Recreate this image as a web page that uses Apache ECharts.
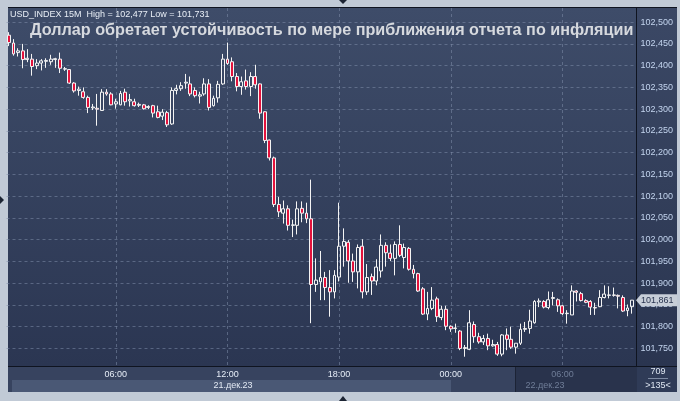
<!DOCTYPE html>
<html><head><meta charset="utf-8">
<script src="https://cdn.jsdelivr.net/npm/echarts@6/dist/echarts.min.js"></script>
<style>
html,body{margin:0;padding:0;background:#c1cad6;overflow:hidden;}
#wrap{position:relative;width:680px;height:401px;}
.bg{position:absolute;}
#c{position:absolute;left:0;top:0;width:680px;height:401px;}
</style>
</head><body><div id="wrap">
<div class="bg" style="left:8px;top:7px;width:669px;height:385px;background:#0f1420"></div>
<div class="bg" style="left:8px;top:8px;width:628px;height:358px;background:linear-gradient(#3e4c69,#2b3652)"></div>
<div class="bg" style="left:637px;top:8px;width:40px;height:358px;background:linear-gradient(#3b4865,#2a3550)"></div>
<div class="bg" style="left:8px;top:367px;width:628px;height:25px;background:#37435f"></div>
<div class="bg" style="left:12px;top:380px;width:439px;height:12px;background:#4a5875"></div>
<div class="bg" style="left:515px;top:367px;width:121px;height:25px;background:#29334c;border-left:1px solid #1c2335"></div>
<div class="bg" style="left:637px;top:367px;width:40px;height:25px;background:#2f3b57"></div>
<div id="c"></div></div>
<script>
// ---- data ----
const opens = [102.470,102.452,102.430,102.434,102.414,102.415,102.400,102.406,102.410,102.409,
102.414,102.415,102.392,102.391,102.360,102.343,102.340,102.327,102.303,102.302,
102.297,102.339,102.335,102.312,102.310,102.339,102.319,102.317,102.309,102.310,
102.304,102.308,102.294,102.284,102.292,102.266,102.343,102.347,102.360,102.358,
102.343,102.330,102.335,102.358,102.308,102.326,102.358,102.415,102.409,102.375,
102.352,102.365,102.352,102.375,102.358,102.294,102.229,102.188,102.081,102.061,
102.071,102.033,102.033,102.072,102.061,102.048,101.897,101.903,101.913,101.890,
101.880,101.914,101.985,101.994,101.951,101.926,101.985,101.880,101.915,101.905,
101.928,101.987,101.969,101.957,101.989,101.959,101.980,101.932,101.922,101.887,
101.829,101.842,101.864,101.821,101.840,101.801,101.796,101.790,101.750,101.748,
101.805,101.777,101.765,101.773,101.756,101.759,101.737,101.781,101.771,101.753,
101.762,101.794,101.796,101.809,101.857,101.858,101.844,101.865,101.862,101.848,
101.830,101.827,101.882,101.876,101.860,101.858,101.844,101.846,101.867,101.872,
101.873,101.872,101.867,101.837,101.846];
const closes = [102.453,102.427,102.434,102.414,102.417,102.398,102.406,102.411,102.412,102.415,
102.416,102.394,102.393,102.360,102.342,102.346,102.327,102.304,102.305,102.300,
102.339,102.335,102.310,102.317,102.336,102.317,102.322,102.308,102.311,102.301,
102.306,102.291,102.281,102.293,102.264,102.343,102.347,102.354,102.362,102.335,
102.331,102.333,102.358,102.304,102.325,102.357,102.415,102.405,102.375,102.352,
102.363,102.352,102.375,102.356,102.291,102.228,102.188,102.081,102.064,102.071,
102.033,102.034,102.071,102.061,102.048,101.897,101.907,101.913,101.890,101.880,
101.918,101.985,101.996,101.951,101.926,101.982,101.880,101.913,101.905,101.937,
101.987,101.970,101.957,101.989,101.964,101.982,101.932,101.922,101.882,101.829,
101.842,101.861,101.823,101.840,101.801,101.795,101.797,101.750,101.752,101.809,
101.777,101.765,101.773,101.756,101.759,101.737,101.781,101.771,101.753,101.762,
101.794,101.796,101.813,101.858,101.859,101.845,101.862,101.867,101.848,101.830,
101.831,101.882,101.879,101.860,101.856,101.845,101.843,101.867,101.875,101.873,
101.872,101.870,101.836,101.843,101.861];
const lows = [102.445,102.423,102.421,102.394,102.408,102.377,102.392,102.389,102.395,102.402,
102.395,102.383,102.388,102.358,102.338,102.331,102.324,102.291,102.298,102.262,
102.296,102.331,102.309,102.301,102.309,102.308,102.306,102.306,102.305,102.299,
102.300,102.281,102.279,102.275,102.259,102.264,102.334,102.342,102.347,102.330,
102.327,102.313,102.331,102.297,102.306,102.315,102.356,102.402,102.364,102.341,
102.333,102.345,102.330,102.347,102.278,102.222,102.182,102.075,102.052,102.037,
102.021,102.006,102.012,102.040,102.038,101.808,101.880,101.861,101.861,101.823,
101.865,101.904,101.938,101.901,101.903,101.888,101.865,101.873,101.873,101.895,
101.913,101.938,101.951,101.918,101.960,101.934,101.929,101.911,101.880,101.827,
101.815,101.838,101.811,101.815,101.792,101.788,101.786,101.746,101.731,101.746,
101.763,101.761,101.758,101.746,101.754,101.733,101.732,101.746,101.749,101.738,
101.758,101.788,101.784,101.807,101.845,101.842,101.840,101.849,101.834,101.827,
101.807,101.827,101.858,101.858,101.854,101.827,101.827,101.845,101.865,101.865,
101.869,101.842,101.834,101.824,101.830];
const highs = [102.477,102.461,102.440,102.450,102.438,102.427,102.415,102.415,102.417,102.425,
102.418,102.430,102.397,102.392,102.362,102.352,102.350,102.331,102.312,102.335,
102.346,102.346,102.339,102.324,102.342,102.347,102.335,102.324,102.315,102.312,
102.309,102.310,102.308,102.300,102.296,102.350,102.356,102.362,102.381,102.375,
102.350,102.340,102.371,102.369,102.331,102.365,102.427,102.453,102.419,102.383,
102.375,102.391,102.385,102.402,102.359,102.295,102.230,102.191,102.098,102.090,
102.079,102.046,102.088,102.088,102.085,102.138,101.957,101.974,101.926,101.930,
101.930,102.085,102.026,101.999,101.968,101.989,102.001,101.944,101.922,101.955,
102.012,101.994,101.989,101.996,102.033,101.991,101.983,101.942,101.924,101.891,
101.880,101.891,101.869,101.848,101.848,101.803,101.807,101.792,101.758,101.838,
101.812,101.786,101.781,101.784,101.770,101.765,101.783,101.796,101.800,101.762,
101.807,101.811,101.839,101.861,101.865,101.861,101.881,101.880,101.865,101.850,
101.838,101.895,101.884,101.880,101.863,101.861,101.855,101.884,101.895,101.893,
101.890,101.874,101.872,101.851,101.861];
const timeLabelIdx = [23,47,71,95,119];
const dimTimeLabels = ['2023-12-22 06:00'];
const dateLabels = ['21.дек.23','22.дек.23'];
const lastPrice = 101.861;
const headerText = 'USD_INDEX 15M  High = 102,477 Low = 101,731';
const titleText = 'Доллар обретает устойчивость по мере приближения отчета по инфляции';

// category labels: 15-minute bars starting 2023-12-21 00:15
const times = [];
for (let i = 0; i < opens.length; i++) {
  const d = new Date(Date.UTC(2023, 11, 21, 0, 15) + i * 15 * 60000);
  const p = n => String(n).padStart(2, '0');
  times.push(d.getUTCFullYear() + '-' + p(d.getUTCMonth() + 1) + '-' + p(d.getUTCDate()) + ' ' + p(d.getUTCHours()) + ':' + p(d.getUTCMinutes()));
}
const candles = opens.map((o, i) => [o, closes[i], lows[i], highs[i]]);

const FONT = 'Liberation Sans';
const chart = echarts.init(document.getElementById('c'), null, {renderer: 'canvas'});
const dashed = {color: 'rgba(125,140,168,0.55)', type: [3, 3], width: 1};
const fmt = v => v.toFixed(3).replace('.', ',');
chart.setOption({
  animation: false,
  grid: [
    {left: 6.5, width: 628, top: 0.4, height: 369.8},
    {left: 6.5, width: 628, top: 8, height: 358.5}
  ],
  xAxis: [
    {type: 'category', data: times, gridIndex: 0, boundaryGap: true,
     axisLine: {show: false}, axisTick: {show: false}, splitLine: {show: false},
     axisLabel: {interval: (i) => timeLabelIdx.includes(i), formatter: v => v.slice(11),
       fontFamily: FONT, fontSize: 9, margin: 4, verticalAlign: 'middle',
       color: v => dimTimeLabels.includes(v) ? '#6f7d97' : '#e6edf7'}},
    {type: 'category', data: times, gridIndex: 1, boundaryGap: true,
     axisLine: {show: false}, axisTick: {show: false}, axisLabel: {show: false},
     splitLine: {show: true, interval: (i) => timeLabelIdx.includes(i), alignWithLabel: true, lineStyle: dashed}}
  ],
  yAxis: [
    {type: 'value', gridIndex: 0, position: 'right', min: 101.70, max: 102.55, interval: 0.05, scale: true,
     axisLine: {show: false}, axisTick: {show: false},
     splitLine: {show: true, showMinLine: false, showMaxLine: false, lineStyle: dashed},
     axisLabel: {fontFamily: FONT, fontSize: 9, color: '#c3d4ee', margin: 6,
       formatter: v => (v > 102.52 || v < 101.72) ? '' : fmt(v)}},
    {type: 'value', gridIndex: 1, show: false, min: 0, max: 1}
  ],
  series: [{
    type: 'candlestick', xAxisIndex: 0, yAxisIndex: 0, data: candles, barWidth: 3.4,
    itemStyle: {color: 'rgba(0,0,0,0)', color0: '#e3123c', borderColor: '#f4f4f4', borderColor0: '#f4f4f4', borderWidth: 1}
  }]
});
// current-price tag placed through the value axis scale
const py = chart.convertToPixel({yAxisIndex: 0}, lastPrice);
chart.setOption({
  graphic: [
    {type: 'text', left: 10, top: 10, z: 100, style: {text: headerText, font: '9px "' + FONT + '"', fill: '#e8eef6'}},
    {type: 'text', left: 30, top: 23, z: 100, style: {text: titleText, font: 'bold 16.2px "' + FONT + '"', fill: '#d6d9de'}},
    {type: 'text', x: 233, y: 386, z: 100, style: {text: dateLabels[0], font: '9px "' + FONT + '"', fill: '#e3eaf4', align: 'center', verticalAlign: 'middle'}},
    {type: 'text', x: 545, y: 386, z: 100, style: {text: dateLabels[1], font: '9px "' + FONT + '"', fill: '#6f7d97', align: 'center', verticalAlign: 'middle'}},
    {type: 'text', x: 658, y: 372, z: 100, style: {text: '709', font: '9px "' + FONT + '"', fill: '#dfe7f2', align: 'center', verticalAlign: 'middle'}},
    {type: 'line', z: 100, shape: {x1: 648, y1: 378.5, x2: 668, y2: 378.5}, style: {stroke: '#7d8aa2', lineWidth: 1}},
    {type: 'text', x: 658, y: 386, z: 100, style: {text: '>135<', font: '9px "' + FONT + '"', fill: '#dfe7f2', align: 'center', verticalAlign: 'middle'}},
    {type: 'polygon', z: 100, shape: {points: [[636, py], [641, py - 6], [677, py - 6], [677, py + 6], [641, py + 6]]}, style: {fill: '#c7ced8'}},
    {type: 'text', x: 641, y: py, z: 101, style: {text: fmt(lastPrice), font: '9px "' + FONT + '"', fill: '#2a3550', verticalAlign: 'middle'}},
    {type: 'polygon', z: 100, shape: {points: [[339, 0], [347, 0], [343, 4]]}, style: {fill: '#1c2433'}},
    {type: 'polygon', z: 100, shape: {points: [[339, 401], [347, 401], [343, 396]]}, style: {fill: '#1c2433'}},
    {type: 'polygon', z: 100, shape: {points: [[0, 196], [0, 204], [4, 200]]}, style: {fill: '#1c2433'}}
  ]
});
</script></body></html>
